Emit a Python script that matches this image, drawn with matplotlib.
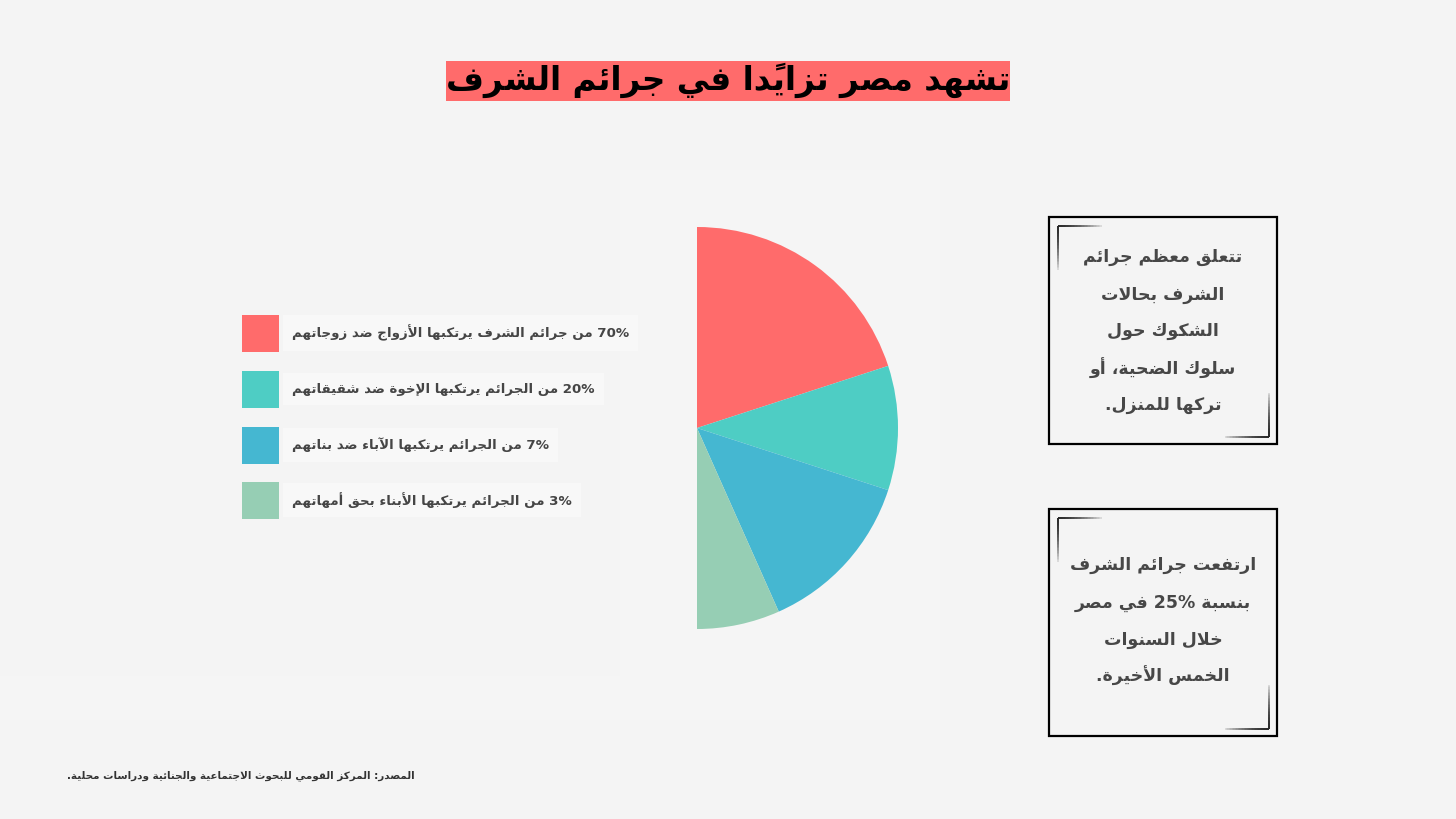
import matplotlib
matplotlib.use('Agg')
import numpy as np
import matplotlib.pyplot as plt
from matplotlib.patches import Rectangle
from matplotlib.collections import LineCollection

# Data
title = 'تشهد مصر تزايدًا في جرائم الشرف'
legend_labels = [
    '70% من جرائم الشرف يرتكبها الأزواج ضد زوجاتهم',
    '20% من الجرائم يرتكبها الإخوة ضد شقيقاتهم',
    '7% من الجرائم يرتكبها الآباء ضد بناتهم',
    '3% من الجرائم يرتكبها الأبناء بحق أمهاتهم',
]
# slice sizes as drawn (the chart shows only the right half of the disc)
slice_sizes = [30, 15, 20, 10]
slice_colors = ['#FF6B6B', '#4ECDC4', '#45B7D1', '#96CEB4']
box1_lines = ['تتعلق معظم جرائم', 'الشرف بحالات', 'الشكوك حول', 'سلوك الضحية، أو', 'تركها للمنزل.']
box2_lines = ['ارتفعت جرائم الشرف', 'بنسبة 25% في مصر', 'خلال السنوات', 'الخمس الأخيرة.']
source = 'المصدر: المركز القومي للبحوث الاجتماعية والجنائية ودراسات محلية.'

# --- minimal arabic shaping + rtl ordering (matplotlib has no text shaping) ---
DUAL = {'ئ': 0xFE89, 'ب': 0xFE8F, 'ت': 0xFE95, 'ث': 0xFE99, 'ج': 0xFE9D, 'ح': 0xFEA1,
        'خ': 0xFEA5, 'س': 0xFEB1, 'ش': 0xFEB5, 'ص': 0xFEB9, 'ض': 0xFEBD, 'ط': 0xFEC1,
        'ظ': 0xFEC5, 'ع': 0xFEC9, 'غ': 0xFECD, 'ف': 0xFED1, 'ق': 0xFED5, 'ك': 0xFED9,
        'ل': 0xFEDD, 'م': 0xFEE1, 'ن': 0xFEE5, 'ه': 0xFEE9, 'ي': 0xFEF1}
RIGHT = {'آ': 0xFE81, 'أ': 0xFE83, 'ؤ': 0xFE85, 'إ': 0xFE87, 'ا': 0xFE8D, 'ة': 0xFE93,
         'د': 0xFEA9, 'ذ': 0xFEAB, 'ر': 0xFEAD, 'ز': 0xFEAF, 'و': 0xFEED, 'ى': 0xFEEF,
         'ء': 0xFE80}
LAM_ALEF = {'آ': 0xFEF5, 'أ': 0xFEF7, 'إ': 0xFEF9, 'ا': 0xFEFB}
MARKS = set(chr(c) for c in range(0x064B, 0x0653))


def shape(s):
    n = len(s)

    def neighbour(i, step):
        j = i + step
        while 0 <= j < n and s[j] in MARKS:
            j += step
        return s[j] if 0 <= j < n else None

    out = []
    i = 0
    while i < n:
        c = s[i]
        if c in MARKS or (c not in DUAL and c not in RIGHT):
            out.append(c)
            i += 1
            continue
        prev = neighbour(i, -1)
        jp = prev in DUAL
        nxt = neighbour(i, 1)
        if c == 'ل' and nxt in LAM_ALEF:
            out.append(chr(LAM_ALEF[nxt] + (1 if jp else 0)))
            i += 1
            while s[i] in MARKS:
                out.append(s[i])
                i += 1
            i += 1
            continue
        if c in DUAL:
            jn = nxt in DUAL or (nxt in RIGHT and nxt != 'ء')
            form = 3 if (jp and jn) else 1 if jp else 2 if jn else 0
            out.append(chr(DUAL[c] + form))
        else:
            form = 1 if (jp and c != 'ء') else 0
            out.append(chr(RIGHT[c] + form))
        i += 1
    return ''.join(out)


def ar(s):
    clusters = []
    for ch in shape(s):
        if ch in MARKS and clusters:
            clusters[-1] += ch
        else:
            clusters.append(ch)
    clusters.reverse()
    out, run = [], []
    for cl in clusters:
        if cl.isascii() and (cl.isalnum() or cl == '%'):
            run.append(cl)
        else:
            out.extend(reversed(run))
            run = []
            out.append(cl)
    out.extend(reversed(run))
    return ''.join(out)


FONT = ['DejaVu Sans']
bg = '#F4F4F4'

fig = plt.figure(figsize=(14.56, 8.19), dpi=100, facecolor=bg)
ax = fig.add_axes([0, 0, 1, 1])
ax.set_xlim(0, 1456)
ax.set_ylim(819, 0)
ax.axis('off')

# faint panels behind the chart
ax.add_patch(Rectangle((620, 170), 320, 550, fc='#F5F5F5', ec='none'))
ax.add_patch(Rectangle((0, 676), 620, 44, fc='#F5F5F5', ec='none'))

# title with highlight
ax.add_patch(Rectangle((446, 61), 564, 40, fc='#FF6B6B', ec='none'))
ax.text(728, 80, ar(title), ha='center', va='center', fontsize=23.5,
        fontweight='bold', family=FONT, color='black')

# legend
legend_y = [333, 389, 445, 500]
for lab, col, y in zip(legend_labels, slice_colors, legend_y):
    ax.add_patch(Rectangle((242, y - 18.5), 37, 37, fc=col, ec='none'))
    ax.text(292, y, ar(lab), ha='left', va='center', fontsize=9.6,
            fontweight='bold', family=FONT, color='#454545',
            bbox=dict(boxstyle='square,pad=0.7', fc='#F8F8F8', ec='none'))


def fading_corner(x0, y0, dx, dy, length=44, n=30):
    # L-shaped bracket that fades away from its corner
    t = np.linspace(0, 1, n + 1)
    segs, cols = [], []
    for a, b in zip(t[:-1], t[1:]):
        alpha = 1 - 0.92 * a ** 1.6
        segs.append([(x0 + dx * a * length, y0), (x0 + dx * b * length, y0)])
        segs.append([(x0, y0 + dy * a * length), (x0, y0 + dy * b * length)])
        cols += [(0.15, 0.15, 0.15, alpha)] * 2
    ax.add_collection(LineCollection(segs, colors=cols, linewidths=1.4, capstyle='butt'))


def text_box(y0, lines, line_y):
    ax.add_patch(Rectangle((1049, y0), 228, 227, fc='none', ec='black', lw=1.6))
    fading_corner(1057.5, y0 + 8.5, 1, 1)
    fading_corner(1268.5, y0 + 219.5, -1, -1)
    for ln, y in zip(lines, line_y):
        ax.text(1163, y, ar(ln), ha='center', va='center', fontsize=12.5,
                fontweight='bold', family=FONT, color='#474747')


text_box(217, box1_lines, [257, 295, 331, 368, 405])
text_box(509, box2_lines, [565, 603, 640, 676])

ax.text(67, 776, ar(source), ha='left', va='center', fontsize=7.5,
        fontweight='bold', family=FONT, color='#333333')

# half pie: centre (697, 428), radius 201 px
cx, cy, r = 697, 428, 201
pax = fig.add_axes([(cx - r) / 1456, (819 - cy - r) / 819, 2 * r / 1456, 2 * r / 819])
pax.pie(slice_sizes + [sum(slice_sizes)], colors=slice_colors + ['none'],
        startangle=90, counterclock=False, radius=1,
        wedgeprops=dict(linewidth=0))
pax.set_xlim(-1, 1)
pax.set_ylim(-1, 1)
pax.set_aspect('auto')
pax.axis('off')

fig.savefig('out.png', dpi=100, facecolor=bg)
